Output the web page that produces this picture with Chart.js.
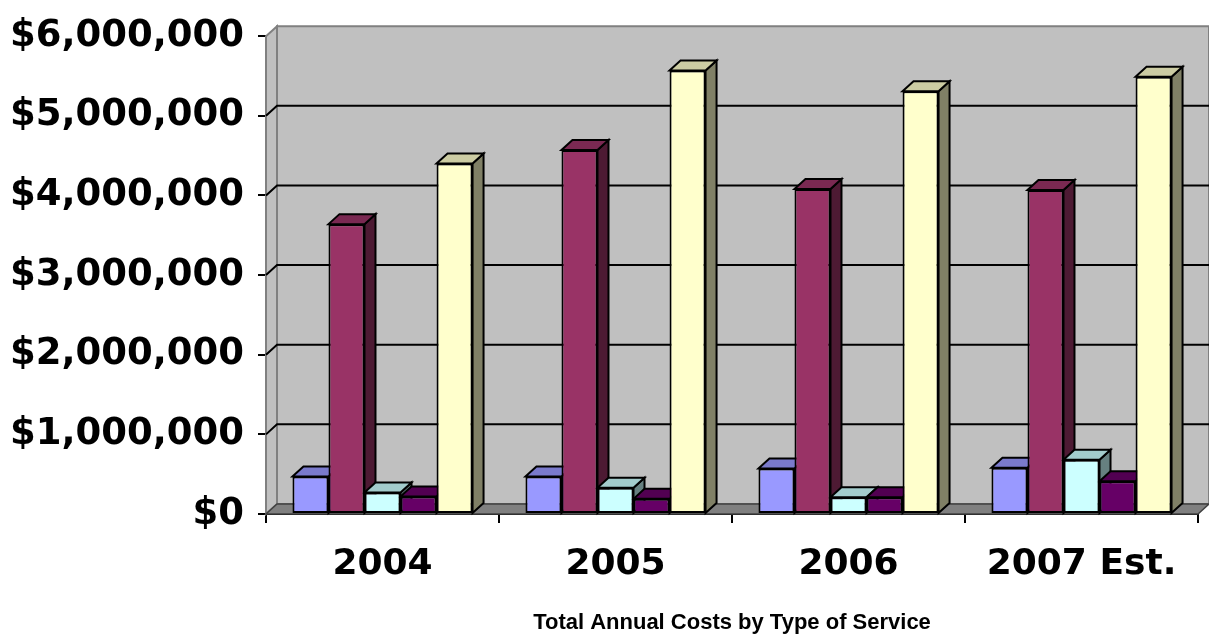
<!DOCTYPE html>
<html>
<head>
<meta charset="utf-8">
<script src="https://cdn.jsdelivr.net/npm/chart.js@4/dist/chart.umd.min.js"></script>
<style>
  body { margin: 0; background: #ffffff; }
  #wrap { width: 1209px; height: 636px; }
</style>
</head>
<body>
<div id="wrap"><canvas id="costChart" width="1209" height="636"></canvas></div>
<script>
// chart data
const years = ['2004', '2005', '2006', '2007 Est.'];
const serviceA = [470000, 470000, 570000, 580000];
const serviceB = [3640000, 4570000, 4080000, 4070000];
const serviceC = [270000, 330000, 210000, 680000];
const serviceD = [220000, 190000, 210000, 410000];
const serviceE = [4400000, 5570000, 5310000, 5490000];
const yTicks = [0, 1000000, 2000000, 3000000, 4000000, 5000000, 6000000];
const axisTitle = 'Total Annual Costs by Type of Service';

// Excel-ish 3D look
const depthX = 11;
const depthY = 10;
const frontColors = ['#9999ff', '#993366', '#ccffff', '#660066', '#ffffcc'];

function shade(hex, f) {
    const n = parseInt(hex.slice(1), 16);
    const r = Math.round(((n >> 16) & 255) * f);
    const g = Math.round(((n >> 8) & 255) * f);
    const b = Math.round((n & 255) * f);
    return 'rgb(' + r + ',' + g + ',' + b + ')';
}

function poly(ctx, pts, fill, stroke, lw) {
    ctx.beginPath();
    ctx.moveTo(pts[0][0], pts[0][1]);
    for (let i = 1; i < pts.length; i++) ctx.lineTo(pts[i][0], pts[i][1]);
    ctx.closePath();
    ctx.fillStyle = fill;
    ctx.fill();
    if (stroke) {
        ctx.strokeStyle = stroke;
        ctx.lineWidth = lw;
        ctx.lineJoin = 'miter';
        ctx.stroke();
    }
}

const box3d = {
    id: 'box3d',
    beforeDatasetsDraw(chart) {
        const ctx = chart.ctx;
        const a = chart.chartArea;
        const yScale = chart.scales.y;
        ctx.save();

        // left wall
        poly(ctx, [[a.left, a.top], [a.left + depthX, a.top - depthY],
            [a.left + depthX, a.bottom - depthY], [a.left, a.bottom]], '#c0c0c0', '#808080', 2);
        // back wall
        poly(ctx, [[a.left + depthX, a.top - depthY], [a.right + depthX, a.top - depthY],
            [a.right + depthX, a.bottom - depthY], [a.left + depthX, a.bottom - depthY]], '#c0c0c0', '#808080', 2);

        // gridlines on the walls
        ctx.strokeStyle = '#000000';
        ctx.lineWidth = 2;
        yTicks.forEach(v => {
            if (v === 0 || v === yTicks[yTicks.length - 1]) return;
            const y = yScale.getPixelForValue(v);
            ctx.beginPath();
            ctx.moveTo(a.left, y);
            ctx.lineTo(a.left + depthX, y - depthY);
            ctx.lineTo(a.right + depthX, y - depthY);
            ctx.stroke();
        });

        // floor
        poly(ctx, [[a.left, a.bottom], [a.right, a.bottom],
            [a.right + depthX, a.bottom - depthY], [a.left + depthX, a.bottom - depthY]], '#808080', '#404040', 1.5);

        // side and top faces, left to right so the next front face hides the side
        const n = chart.data.datasets.length;
        for (let c = 0; c < chart.data.labels.length; c++) {
            for (let d = 0; d < n; d++) {
                const bar = chart.getDatasetMeta(d).data[c];
                const left = bar.x - bar.width / 2;
                const right = bar.x + bar.width / 2;
                const top = bar.y;
                const base = bar.base;
                const col = frontColors[d];
                poly(ctx, [[right, top], [right + depthX, top - depthY],
                    [right + depthX, base - depthY], [right, base]], shade(col, 0.5), '#000000', 2);
                poly(ctx, [[left, top], [left + depthX, top - depthY],
                    [right + depthX, top - depthY], [right, top]], shade(col, 0.8), '#000000', 2);
            }
        }
        ctx.restore();
    },
    afterDraw(chart) {
        // category axis title, centred under the plot area
        const ctx = chart.ctx;
        const a = chart.chartArea;
        ctx.save();
        ctx.font = 'bold 22px "Liberation Sans", Arial, sans-serif';
        ctx.fillStyle = '#000000';
        ctx.textAlign = 'center';
        ctx.textBaseline = 'alphabetic';
        ctx.fillText(axisTitle, (a.left + a.right) / 2, 629);
        ctx.restore();
    }
};

function money(v) {
    return '$' + v.toLocaleString('en-US');
}

const ctx = document.getElementById('costChart');
const chart = new Chart(ctx, {
    type: 'bar',
    data: {
        labels: years,
        datasets: [serviceA, serviceB, serviceC, serviceD, serviceE].map((vals, i) => ({
            label: 'Service ' + (i + 1),
            data: vals,
            backgroundColor: frontColors[i],
            borderColor: '#000000',
            borderWidth: 2,
            borderSkipped: false,
            categoryPercentage: 0.773,
            barPercentage: 1.0
        }))
    },
    plugins: [box3d],
    options: {
        responsive: false,
        devicePixelRatio: 1,
        animation: false,
        layout: {
            padding: { top: 29, right: 11, left: 0, bottom: 0 }
        },
        plugins: {
            legend: { display: false },
            tooltip: { enabled: false },
            title: { display: false }
        },
        scales: {
            y: {
                min: 0,
                max: 6000000,
                afterFit: function(scale) { scale.width = 266; },
                afterBuildTicks: function(scale) {
                    scale.ticks = yTicks.map(v => ({ value: v }));
                },
                ticks: {
                    color: '#000000',
                    padding: 14,
                    font: { family: '"DejaVu Sans", sans-serif', size: 37, weight: 'bold' },
                    callback: function(value) { return money(value); }
                },
                grid: {
                    drawOnChartArea: false,
                    drawTicks: true,
                    tickLength: 8,
                    color: '#000000',
                    lineWidth: 2
                },
                border: { display: true, color: '#000000', width: 2 }
            },
            x: {
                afterFit: function(scale) { scale.height = 636 - 514; },
                ticks: {
                    color: '#000000',
                    padding: 20,
                    maxRotation: 0,
                    font: { family: '"DejaVu Sans", sans-serif', size: 36, weight: 'bold' }
                },
                grid: {
                    offset: true,
                    drawOnChartArea: false,
                    drawTicks: true,
                    tickLength: 9,
                    color: '#000000',
                    lineWidth: 2
                },
                border: { display: true, color: '#000000', width: 2 }
            }
        }
    }
});
</script>
</body>
</html>
